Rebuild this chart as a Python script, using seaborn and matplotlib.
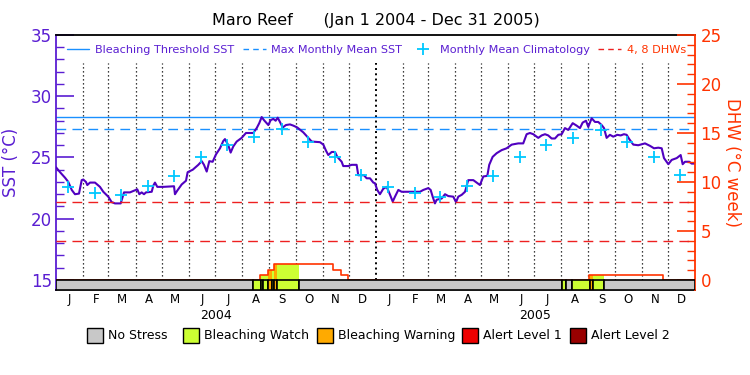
import numpy as np
import pandas as pd
import matplotlib
matplotlib.use("Agg")
import matplotlib.pyplot as plt
import seaborn as sns
from matplotlib.lines import Line2D
from matplotlib.patches import Rectangle

# ---------------- data (days counted from 2004-01-01) ----------------
sst_day = [0, 4.6, 10.3, 14.1, 18.0, 21.7, 26.3, 29.4, 31.2, 34.3, 35.8, 38.9, 44.6, 50.3, 54.1,
           59.8, 63.7, 67.5, 74.0, 76.3, 77.8, 84.6, 91.5, 93.0, 95.3, 98.0, 100.7, 102.9, 109.5,
           111.3, 113.2, 115.9, 122.7, 135.0, 136.1, 138.8, 143.8, 148.7, 150.6, 156.4, 162.8,
           166.7, 169.3, 172.4, 175.4, 179.2, 183.0, 187.6, 191.4, 193.3, 197.1, 199.8, 202.8,
           206.7, 212.4, 217.3, 225.7, 229.6, 232.5, 235.3, 237.9, 242.9, 245.6, 248.6, 251.3,
           253.6, 256.2, 259.3, 263.1, 267.7, 271.5, 276.0, 282.9, 288.6, 292.5, 302.0, 305.8,
           308.9, 311.5, 315.4, 319.2, 321.8, 326.8, 328.6, 334.4, 338.2, 343.9, 345.8, 352.3,
           355.4, 359.2, 363.0, 364.9, 367.5, 370.6, 374.4, 378.3, 381.3, 385.2, 387.8, 391.6,
           395.4, 404.9, 416.4, 420.2, 425.9, 428.6, 430.9, 433.5, 435.5, 441.2, 445.0, 448.8,
           454.5, 457.6, 460.2, 464.1, 467.9, 471.6, 477.4, 481.2, 485.0, 488.8, 493.4, 495.6,
           499.5, 504.1, 509.8, 515.5, 521.3, 528.8, 534.5, 538.4, 542.2, 546.0, 551.7, 555.6,
           559.4, 563.1, 567.0, 570.8, 574.6, 578.5, 582.2, 586.0, 591.1, 595.6, 599.4, 602.5,
           606.3, 608.9, 612.8, 616.6, 620.3, 624.2, 626.9, 629.9, 633.7, 637.5, 642.1, 646.0,
           649.7, 652.8, 655.8, 660.4, 666.1, 673.8, 679.5, 684.1, 689.0, 692.9, 695.5, 700.5,
           704.3, 710.1, 714.6, 716.9, 719.5, 724.5, 727.2, 731.0]
sst_val = [24.2, 23.8, 23.35, 23.0, 22.35, 22.0, 22.05, 23.15, 23.2, 23.0, 22.75, 22.95, 22.95, 22.6, 22.2,
           21.8, 21.35, 21.25, 21.25, 21.8, 22.15, 22.15, 22.35, 22.4, 22.0, 22.15, 22.0, 22.15, 22.2,
           22.7, 22.95, 22.6, 22.6, 22.65, 22.0, 22.3, 22.8, 23.1, 23.8, 24.0, 24.4,
           24.7, 24.4, 23.85, 24.7, 24.65, 25.25, 25.75, 26.35, 26.5, 26.0, 25.4, 25.9,
           26.3, 26.6, 27.0, 27.0, 27.4, 27.8, 28.3, 28.05, 27.65, 28.05, 28.15, 28.0,
           28.25, 27.9, 27.45, 27.65, 27.7, 27.6, 27.45, 27.05, 26.6, 26.3, 26.25, 26.05,
           25.55, 25.2, 25.45, 25.45, 25.05, 24.65, 24.3, 24.3, 24.4, 24.4, 23.55, 23.55,
           23.3, 23.3, 22.95, 22.9, 22.35, 22.0, 22.45, 22.6, 22.1, 21.4, 21.8, 22.35,
           22.2, 22.2, 22.2, 22.35, 22.5, 22.35, 21.8, 21.25, 21.55, 21.65, 22.0, 21.85,
           21.8, 21.35, 21.8, 21.95, 22.2, 23.15, 23.15, 22.95, 22.75, 23.45, 23.5, 24.4,
           25.05, 25.35, 25.6, 25.75, 26.05, 26.15, 26.15, 26.9, 27.0, 26.9, 26.6, 26.8,
           26.9, 26.8, 26.55, 26.55, 26.85, 26.9, 27.4, 27.25, 27.8, 27.6, 27.4, 27.85,
           28.0, 27.5, 28.2, 27.9, 27.9, 27.65, 27.4, 26.6, 26.85, 26.7, 26.85, 26.8,
           26.9, 26.85, 26.5, 26.05, 26.0, 26.15, 25.95, 25.75, 25.8, 25.75, 24.95, 24.45,
           24.8, 24.95, 25.2, 24.45, 24.65, 24.65, 24.5, 24.5]

clim_val = [22.6, 22.1, 21.9, 22.7, 23.45, 25.05, 26.0, 26.65, 27.3, 26.25, 25.0, 23.6,
            22.6, 22.1, 21.8, 22.7, 23.45, 25.05, 26.05, 26.6, 27.25, 26.25, 25.05, 23.6]

mmm_sst = 27.3
threshold_sst = 28.3
dhw_levels = [4, 8]

dhw_day = [0, 233.4, 242.8, 249.7, 316.9, 326.4, 334.4, 610.0, 694.7, 731.0]
dhw_val = [0, 0.5, 1.0, 1.6, 1.0, 0.5, 0.0, 0.5, 0.0, 0.0]

stress_start = [0, 225.7, 234.2, 237.1, 242.8, 246.7, 249.4, 253.1, 278.0, 579.2, 583.0, 589.9, 610.8, 613.9, 626.9]
stress_end = [225.7, 234.2, 237.1, 242.8, 246.7, 249.4, 253.1, 278.0, 579.2, 583.0, 589.9, 610.8, 613.9, 626.9, 731.0]
stress_level = [0, 1, 1, 1, 2, 1, 2, 1, 0, 1, 0, 1, 2, 1, 0]

month_letters = ["J", "F", "M", "A", "M", "J", "J", "A", "S", "O", "N", "D"] * 2
years = ["2004", "2005"]
stress_names = ["No Stress", "Bleaching Watch", "Bleaching Warning", "Alert Level 1", "Alert Level 2"]

# ---------------- styling ----------------
PURPLE = "#5a1ed2"
LINEPURPLE = "#5000c0"
ORANGE = "#ff3300"
BLUE = "#1a90ff"
CYAN = "#00c8ff"
RED = "#ee2020"
stress_colors = ["#c8c8c8", "#ccff33", "#ffaa00", "#ee0000", "#990000"]

sns.set_theme(style="white")
plt.rcParams["font.family"] = ["DejaVu Sans"]

start = pd.Timestamp("2004-01-01")
month_starts = pd.date_range("2004-01-01", "2006-01-01", freq="MS")
mstart_day = np.array([(d - start).days for d in month_starts], dtype=float)
mid_day = (mstart_day[:-1] + mstart_day[1:]) / 2.0
clim_day = [(d - start).days + 14 for d in month_starts[:-1]]

YMIN = 14.18
fig = plt.figure(figsize=(7.5, 3.75), dpi=100)
ax = fig.add_axes([56 / 750, 1 - 290 / 375, 639 / 750, 255 / 375])
ax2 = ax.twinx()
ax.set_xlim(0, 731)
ax.set_ylim(YMIN, 35)
ax2.set_ylim((YMIN - 15) * 1.25, 25)

# month dividers
for d in mstart_day[1:-1]:
    if d == 366:
        ax.plot([d, d], [15, 32.7], color="black", lw=1.4, ls=(0, (1, 1.7)), zorder=1)
    else:
        ax.plot([d, d], [15, 32.7], color="black", lw=0.9, ls=(0, (1, 2.2)), zorder=1)

# reference lines
ax.axhline(threshold_sst, color=BLUE, lw=1.0, zorder=2)
ax.axhline(mmm_sst, color=BLUE, lw=1.0, ls=(0, (7, 4.5)), zorder=2)
for lv in dhw_levels:
    ax2.axhline(lv, color=RED, lw=1.0, ls=(0, (7, 4.5)), zorder=2)

# SST and climatology
sns.lineplot(x=sst_day, y=sst_val, ax=ax, color=LINEPURPLE, lw=1.5, estimator=None, sort=False, zorder=4)
sns.scatterplot(x=clim_day, y=clim_val, ax=ax, marker="+", s=70, color=CYAN, linewidth=1.3, zorder=5)

# DHW area coloured by stress level
grid = np.arange(0, 731, 0.1)
dhw_grid = np.array(dhw_val)[np.searchsorted(dhw_day, grid, side="right") - 1]
lev_grid = np.array(stress_level)[np.searchsorted(stress_start, grid, side="right") - 1]
for k in range(1, 5):
    ax2.fill_between(grid, 0, dhw_grid, where=(lev_grid == k), step="post", color=stress_colors[k],
                     lw=0, zorder=3)
ax2.step(dhw_day, dhw_val, where="post", color=ORANGE, lw=1.2, zorder=4)

# stress strip
yb = (YMIN - 15) * 1.25
ax2.broken_barh([(s, e - s) for s, e in zip(stress_start, stress_end)], (yb, -yb),
                facecolors=[stress_colors[k] for k in stress_level], edgecolor="black", lw=1.2, zorder=6)

# axes styling
for sp in ["top", "bottom"]:
    ax.spines[sp].set_color("black")
    ax2.spines[sp].set_visible(False)
ax.spines["left"].set_color(PURPLE)
ax.spines["right"].set_visible(False)
ax2.spines["left"].set_visible(False)
ax2.spines["right"].set_color(ORANGE)
for sp in ax.spines.values():
    sp.set_linewidth(1.3)
ax2.spines["right"].set_linewidth(1.3)

ax.set_yticks([15, 20, 25, 30, 35])
ax.set_yticks([v for v in range(16, 35) if v % 5], minor=True)
ax.tick_params(axis="y", which="major", direction="in", length=13, width=1.2, colors=PURPLE,
               labelsize=12, pad=3, left=True)
ax.tick_params(axis="y", which="minor", direction="in", length=6, width=1.0, colors=PURPLE, left=True)

ax2.set_yticks([0, 5, 10, 15, 20, 25])
ax2.set_yticks([v for v in range(1, 25) if v % 5], minor=True)
ax2.tick_params(axis="y", which="major", direction="in", length=13, width=1.2, colors=ORANGE,
                labelsize=12, pad=4, right=True)
ax2.tick_params(axis="y", which="minor", direction="in", length=6, width=1.0, colors=ORANGE, right=True)

ax.set_xticks(mid_day)
ax.set_xticklabels(month_letters, fontsize=8.5, color="black")
ax.tick_params(axis="x", length=0, pad=2)
ax.grid(False)
ax2.grid(False)

for yr, cx in zip(years, [183, 548]):
    ax.text(cx, -0.1, yr, transform=ax.get_xaxis_transform(), ha="center", va="center",
            fontsize=9, color="black")

ax.set_ylabel("SST (\u00b0C)", color=PURPLE, fontsize=12, labelpad=8)
ax2.set_ylabel("DHW (\u00b0C week)", color=ORANGE, fontsize=12, rotation=270, labelpad=14)
ax.set_xlabel("")
ax.set_title("Maro Reef      (Jan 1 2004 - Dec 31 2005)", fontsize=11.5, color="black", pad=7)

# top legend
handles = [Line2D([], [], color=BLUE, lw=1.0),
           Line2D([], [], color=BLUE, lw=1.0, ls=(0, (4, 3))),
           Line2D([], [], color=CYAN, marker="+", ls="none", markersize=8, mew=1.3),
           Line2D([], [], color=RED, lw=1.0, ls=(0, (4, 3)))]
labels = ["Bleaching Threshold SST", "Max Monthly Mean SST", "Monthly Mean Climatology", "4, 8 DHWs"]
ax.legend(handles, labels, ncol=4, loc="center left", bbox_to_anchor=(0.01, 0.94), frameon=False,
          fontsize=8.1, handlelength=2.0, handletextpad=0.5, columnspacing=0.8, borderaxespad=0,
          labelcolor=[PURPLE, PURPLE, PURPLE, ORANGE])

# bottom stress legend
sq_x = [87, 183, 317, 462, 570]
for name, col, x0 in zip(stress_names, stress_colors, sq_x):
    fig.add_artist(Rectangle((x0 / 750, 1 - 343 / 375), 16 / 750, 15 / 375, transform=fig.transFigure,
                             facecolor=col, edgecolor="black", lw=1.0))
    fig.text((x0 + 21) / 750, 1 - 335.5 / 375, name, fontsize=9, va="center", ha="left", color="black")

fig.savefig("out.png", dpi=100)
